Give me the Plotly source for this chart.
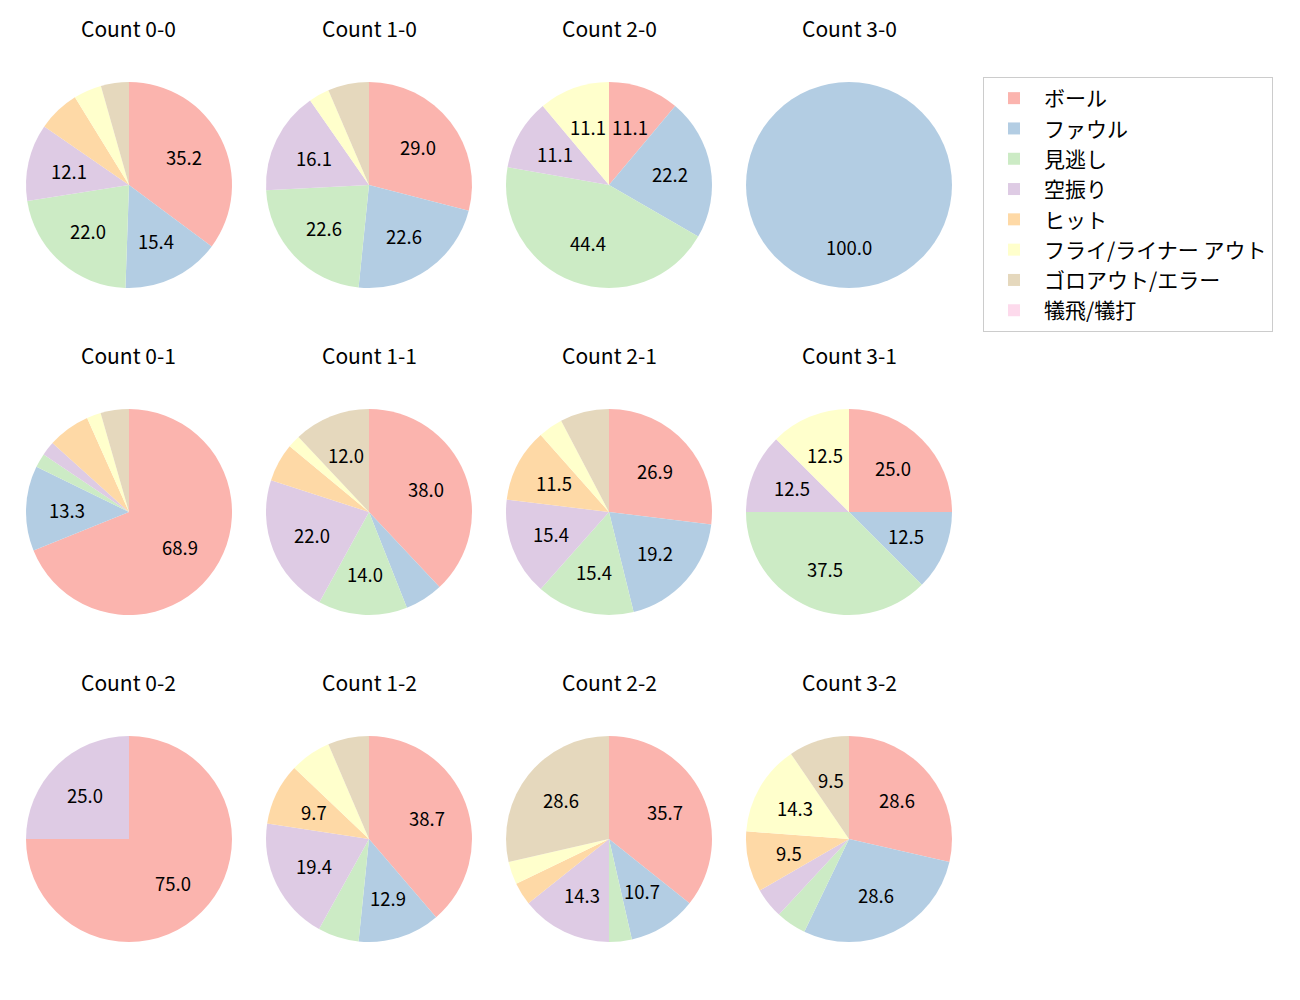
import math
import plotly.graph_objects as go

labels = ["ボール", "ファウル", "見逃し", "空振り", "ヒット",
          "フライ/ライナー アウト", "ゴロアウト/エラー", "犠飛/犠打"]
colors = ["#fbb4ae", "#b3cde3", "#ccebc5", "#decbe4", "#fed9a6",
          "#ffffcc", "#e5d8bd", "#fddaec"]

titles = ["Count 0-0", "Count 1-0", "Count 2-0", "Count 3-0",
          "Count 0-1", "Count 1-1", "Count 2-1", "Count 3-1",
          "Count 0-2", "Count 1-2", "Count 2-2", "Count 3-2"]

count_0_0 = [32, 14, 20, 11, 6, 4, 4, 0]
count_1_0 = [9, 7, 7, 5, 0, 1, 2, 0]
count_2_0 = [1, 2, 4, 1, 0, 1, 0, 0]
count_3_0 = [0, 1, 0, 0, 0, 0, 0, 0]
count_0_1 = [31, 6, 1, 1, 3, 1, 2, 0]
count_1_1 = [19, 3, 7, 11, 3, 1, 6, 0]
count_2_1 = [7, 5, 4, 4, 3, 1, 2, 0]
count_3_1 = [2, 1, 3, 1, 0, 1, 0, 0]
count_0_2 = [3, 0, 0, 1, 0, 0, 0, 0]
count_1_2 = [12, 4, 2, 6, 3, 2, 2, 0]
count_2_2 = [10, 3, 1, 4, 1, 1, 8, 0]
count_3_2 = [6, 6, 1, 1, 2, 3, 2, 0]

all_counts = [count_0_0, count_1_0, count_2_0, count_3_0,
              count_0_1, count_1_1, count_2_1, count_3_1,
              count_0_2, count_1_2, count_2_2, count_3_2]

W, H = 1300, 1000
OFF = 8  # page body margin
col_cx = [129 - OFF, 369 - OFF, 609 - OFF, 849 - OFF]
row_cy = [185 - OFF, 512 - OFF, 839 - OFF]
R = 103
FONT = "Noto Sans CJK JP"

fig = go.Figure()
annotations = []
for i, vals in enumerate(all_counts):
    r, c = divmod(i, 4)
    cx, cy = col_cx[c], row_cy[r]
    total = sum(vals)
    fig.add_trace(go.Pie(
        labels=labels, values=vals,
        textinfo="none",
        marker=dict(colors=colors, line=dict(width=0)),
        sort=False, direction="clockwise", rotation=0,
        domain=dict(x=[(cx - R) / W, (cx + R) / W],
                    y=[1 - (cy + R) / H, 1 - (cy - R) / H]),
        showlegend=(i == 0), hoverinfo="label+percent",
    ))
    cum = 0
    for v in vals:
        p = 100.0 * v / total
        if v > 0 and p >= 9:
            mid = (cum + v / 2) / total
            ang = math.radians(90 - 360 * mid)
            tx = cx + 0.6 * R * math.cos(ang)
            ty = cy - 0.6 * R * math.sin(ang)
            annotations.append(dict(
                text=f"{p:.1f}", x=tx / W, y=1 - ty / H,
                xref="paper", yref="paper", showarrow=False,
                xanchor="center", yanchor="middle",
                font=dict(family=FONT, size=18.5, color="black"),
            ))
        cum += v
    annotations.append(dict(
        text=titles[i], x=cx / W, y=1 - (cy - 157) / H,
        xref="paper", yref="paper", showarrow=False,
        xanchor="center", yanchor="middle",
        font=dict(family=FONT, size=21, color="black"),
    ))

fig.update_layout(
    width=W, height=H,
    margin=dict(l=0, r=0, t=0, b=0),
    paper_bgcolor="white", plot_bgcolor="white",
    annotations=annotations,
    legend=dict(
        x=(983 - OFF) / W, y=1 - (77 - OFF) / H, xanchor="left", yanchor="top",
        bordercolor="#cccccc", borderwidth=1,
        font=dict(family=FONT, size=21, color="black"),
        tracegroupgap=0, itemwidth=50,
    ),
    font=dict(family=FONT),
)

fig.write_html("out.html")
